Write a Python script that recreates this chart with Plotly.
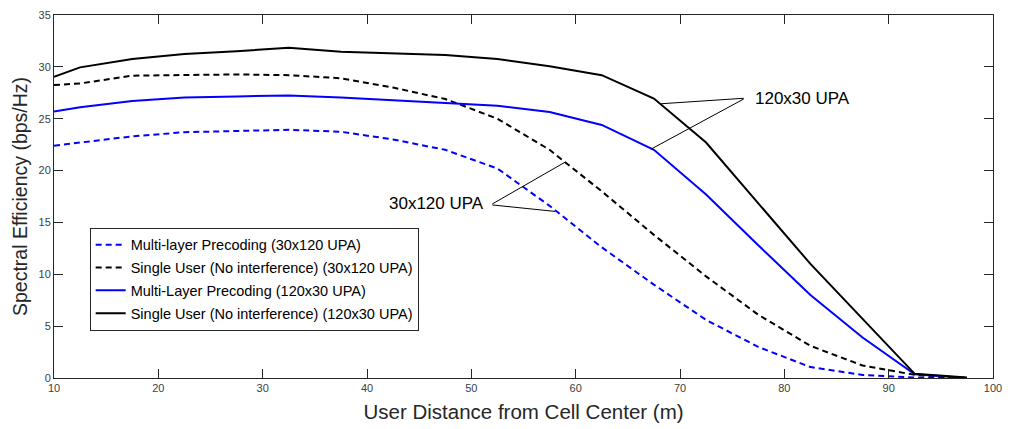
import plotly.graph_objects as go

distance = [10, 12.5, 17.5, 22.5, 27.5, 32.5, 37.5, 42.5, 47.5, 52.5, 57.5, 62.5,
            67.5, 72.5, 77.5, 82.5, 87.5, 92.5, 97.5]

ml_30x120 = [22.4, 22.7, 23.3, 23.7, 23.85, 23.93, 23.74, 23.0, 22.0, 20.2, 16.6, 12.6,
             9.0, 5.6, 3.0, 1.05, 0.3, 0.05, 0.0]
su_30x120 = [28.25, 28.4, 29.15, 29.2, 29.27, 29.2, 28.9, 28.0, 26.9, 25.0, 22.0, 18.0,
             13.8, 9.8, 6.1, 3.1, 1.2, 0.3, 0.0]
ml_120x30 = [25.7, 26.1, 26.7, 27.05, 27.15, 27.25, 27.05, 26.8, 26.55, 26.25, 25.65, 24.4,
             22.0, 17.7, 12.8, 8.0, 3.9, 0.35, 0.0]
su_120x30 = [29.05, 29.95, 30.75, 31.25, 31.5, 31.85, 31.45, 31.3, 31.15, 30.75, 30.05, 29.2,
             26.95, 22.7, 16.9, 11.0, 5.7, 0.4, 0.05]

legend_names = ["Multi-layer Precoding (30x120 UPA)",
                "Single User (No interference) (30x120 UPA)",
                "Multi-Layer Precoding (120x30 UPA)",
                "Single User (No interference) (120x30 UPA)"]

x_ticks = [10, 20, 30, 40, 50, 60, 70, 80, 90, 100]
y_ticks = [0, 5, 10, 15, 20, 25, 30, 35]

BLUE = "#0000FF"
BLACK = "#000000"
AX = "#262626"
FONT = "Liberation Sans, Arial"

fig = go.Figure()
series = [(ml_30x120, BLUE, "6px,4px"), (su_30x120, BLACK, "6px,4px"),
          (ml_120x30, BLUE, "solid"), (su_120x30, BLACK, "solid")]
for i, (vals, col, dash) in enumerate(series):
    fig.add_trace(go.Scatter(x=distance, y=vals, mode="lines", name=legend_names[i],
                             legendgroup=f"g{i}",
                             line=dict(color=col, width=2, dash=dash)))

def arrow(text_x, text_y, hx, hy):
    fig.add_annotation(x=hx, y=hy, ax=text_x, ay=text_y, axref="x", ayref="y",
                       xref="x", yref="y", text="", showarrow=True,
                       arrowhead=0, arrowwidth=1, arrowcolor="#000000")

# 120x30 UPA
arrow(76.25, 26.98, 68.16, 26.44)
arrow(76.25, 26.98, 67.21, 22.06)
fig.add_annotation(x=77.0, y=26.95, xref="x", yref="y", text="120x30 UPA",
                   showarrow=False, xanchor="left", yanchor="middle",
                   font=dict(family=FONT, size=17, color="#000000"))
# 30x120 UPA
arrow(51.87, 16.7, 59.0, 20.82)
arrow(51.87, 16.7, 58.04, 16.06)
fig.add_annotation(x=51.4, y=16.8, xref="x", yref="y", text="30x120 UPA",
                   showarrow=False, xanchor="right", yanchor="middle",
                   font=dict(family=FONT, size=17, color="#000000"))

axis_common = dict(showline=True, linecolor=AX, linewidth=1, mirror="ticks",
                   ticks="inside", ticklen=9, tickcolor=AX, showgrid=False,
                   zeroline=False, tickfont=dict(family=FONT, size=11, color="#404040"))

fig.update_xaxes(range=[10, 100], tickvals=x_ticks, ticktext=[str(v) for v in x_ticks],
                 title=dict(text="User Distance from Cell Center (m)",
                            font=dict(family=FONT, size=20.5, color=AX),
                            standoff=11),
                 **axis_common)
fig.update_yaxes(range=[0, 35], tickvals=y_ticks, ticktext=[str(v) for v in y_ticks],
                 title=dict(text="Spectral Efficiency (bps/Hz)",
                            font=dict(family=FONT, size=19.5, color=AX),
                            standoff=5),
                 **axis_common)

fig.update_layout(
    width=1011, height=429,
    margin=dict(l=54, r=9, t=12, b=50),
    paper_bgcolor="white", plot_bgcolor="white",
    showlegend=True,
    legend=dict(x=0.038, y=0.414, xanchor="left", yanchor="top",
                bgcolor="white", bordercolor=AX, borderwidth=1,
                font=dict(family=FONT, size=14.5, color="#000000"),
                tracegroupgap=1),
    font=dict(family=FONT),
)

fig.write_html("out.html")
